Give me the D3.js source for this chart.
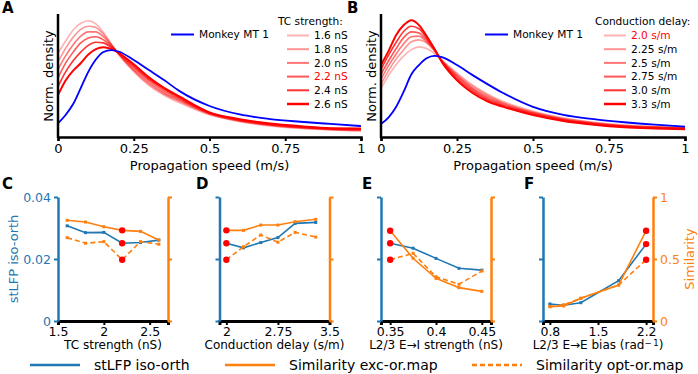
<!DOCTYPE html>
<html>
<head>
<meta charset="utf-8">
<script src="https://cdn.jsdelivr.net/npm/d3@7"></script>
<style>
  body { margin: 0; background: #fff; }
  svg { display: block; }
  svg text { font-family: "DejaVu Sans", sans-serif; }
</style>
</head>
<body>
<div id="root"></div>
<script>
// ---- top panels: propagation speed densities ----
const speeds = [0, 0.025, 0.05, 0.075, 0.1, 0.125, 0.15, 0.175, 0.2, 0.25, 0.3, 0.35, 0.4, 0.5, 0.6, 0.7, 0.8, 0.9, 1];

const monkeyA = [0.111, 0.179, 0.268, 0.398, 0.53, 0.63, 0.691, 0.707, 0.695, 0.626, 0.545, 0.463, 0.375, 0.252, 0.183, 0.146, 0.124, 0.106, 0.089];
const tcLabels = ["1.6 nS", "1.8 nS", "2.0 nS", "2.2 nS", "2.4 nS", "2.6 nS"];
const tcDensity = [
  [0.68, 0.78, 0.87, 0.925, 0.945, 0.92, 0.85, 0.76, 0.67, 0.53, 0.42, 0.34, 0.28, 0.18, 0.125, 0.09, 0.07, 0.057, 0.05],
  [0.61, 0.72, 0.81, 0.875, 0.9, 0.89, 0.835, 0.755, 0.675, 0.54, 0.43, 0.35, 0.29, 0.186, 0.129, 0.094, 0.073, 0.06, 0.053],
  [0.55, 0.66, 0.75, 0.82, 0.855, 0.855, 0.815, 0.75, 0.678, 0.55, 0.445, 0.36, 0.3, 0.19, 0.133, 0.098, 0.077, 0.063, 0.057],
  [0.48, 0.6, 0.69, 0.765, 0.805, 0.815, 0.79, 0.74, 0.68, 0.565, 0.46, 0.375, 0.31, 0.195, 0.137, 0.102, 0.08, 0.066, 0.061],
  [0.41, 0.53, 0.62, 0.69, 0.745, 0.77, 0.765, 0.73, 0.683, 0.578, 0.472, 0.39, 0.32, 0.198, 0.141, 0.106, 0.084, 0.069, 0.065],
  [0.341, 0.46, 0.54, 0.6, 0.67, 0.715, 0.729, 0.716, 0.685, 0.591, 0.485, 0.4, 0.33, 0.2, 0.145, 0.11, 0.088, 0.072, 0.07],
];

const monkeyB = [0.106, 0.16, 0.246, 0.37, 0.51, 0.585, 0.64, 0.66, 0.65, 0.585, 0.505, 0.43, 0.36, 0.245, 0.18, 0.145, 0.12, 0.1, 0.084];
const delayLabels = ["2.0 s/m", "2.25 s/m", "2.5 s/m", "2.75 s/m", "3.0 s/m", "3.3 s/m"];
const delayDensity = [
  [0.396, 0.5, 0.59, 0.66, 0.71, 0.733, 0.72, 0.68, 0.625, 0.52, 0.425, 0.35, 0.29, 0.21, 0.155, 0.12, 0.097, 0.085, 0.078],
  [0.43, 0.54, 0.635, 0.71, 0.775, 0.79, 0.765, 0.7, 0.623, 0.51, 0.413, 0.34, 0.28, 0.203, 0.15, 0.116, 0.094, 0.082, 0.075],
  [0.47, 0.58, 0.675, 0.76, 0.815, 0.82, 0.775, 0.71, 0.62, 0.5, 0.4, 0.328, 0.272, 0.197, 0.145, 0.112, 0.09, 0.079, 0.072],
  [0.51, 0.62, 0.72, 0.81, 0.855, 0.845, 0.79, 0.715, 0.618, 0.49, 0.39, 0.315, 0.263, 0.191, 0.14, 0.108, 0.087, 0.076, 0.069],
  [0.55, 0.665, 0.77, 0.86, 0.9, 0.88, 0.805, 0.72, 0.614, 0.475, 0.375, 0.303, 0.254, 0.185, 0.135, 0.104, 0.083, 0.073, 0.066],
  [0.585, 0.7, 0.83, 0.91, 0.95, 0.91, 0.82, 0.72, 0.61, 0.46, 0.36, 0.29, 0.247, 0.178, 0.13, 0.1, 0.08, 0.07, 0.063],
];
const speedTicks = [0, 0.25, 0.5, 0.75, 1];
const speedTickLabels = ["0", "0.25", "0.5", "0.75", "1"];

// ---- bottom panels: parameter sweeps ----
const tcStrength = [1.6, 1.8, 2.0, 2.2, 2.4, 2.6];
const tcStlfp = [0.0307, 0.0285, 0.0286, 0.0251, 0.0253, 0.0261];
const tcSimExc = [0.812, 0.798, 0.76, 0.731, 0.723, 0.653];
const tcSimOpt = [0.672, 0.627, 0.64, 0.494, 0.64, 0.619];

const delay = [2.0, 2.25, 2.5, 2.75, 3.0, 3.3];
const delayStlfp = [0.0251, 0.0236, 0.0253, 0.0269, 0.0315, 0.0318];
const delaySimExc = [0.731, 0.731, 0.774, 0.774, 0.801, 0.82];
const delaySimOpt = [0.494, 0.599, 0.694, 0.635, 0.715, 0.677];

const eiStrength = [0.35, 0.375, 0.4, 0.425, 0.45];
const eiStlfp = [0.0251, 0.0235, 0.0202, 0.017, 0.0164];
const eiSimExc = [0.728, 0.506, 0.344, 0.269, 0.239];
const eiSimOpt = [0.494, 0.546, 0.357, 0.296, 0.403];

const eeBias = [0.8, 1.0, 1.25, 1.8, 2.2];
const eeStlfp = [0.0055, 0.0051, 0.0059, 0.013, 0.0248];
const eeSimExc = [0.116, 0.121, 0.183, 0.29, 0.728];
const eeSimOpt = [0.116, 0.13, 0.183, 0.29, 0.494];

const stlfpTicks = [0, 0.02, 0.04];
const stlfpTickLabels = ["0", "0.02", "0.04"];
const simTicks = [0, 0.5, 1];
const simTickLabels = ["0", "0.5", "1"];

const blue = "#1f77b4";
const orange = "#ff7f0e";
const width = 698;
const height = 374;
const font = "DejaVu Sans, sans-serif";

const svg = d3.select("#root").append("svg")
  .attr("width", width)
  .attr("height", height)
  .attr("font-family", font);

function styleAxis(ax, color, size) {
  ax.attr("font-family", font).attr("font-size", size);
  ax.selectAll("text").attr("fill", color);
}

function densityPanel(opt) {
  const x = d3.scaleLinear([0, 1], [opt.left, opt.right]);
  const y = d3.scaleLinear([0, 1], [137, 14]);
  const g = svg.append("g");
  const line = d3.line()
    .x((d, i) => x(speeds[i]))
    .y(d => y(d))
    .curve(d3.curveMonotoneX);

  const alphas = [0.3, 0.42, 0.54, 0.66, 0.8, 1];
  opt.series.forEach((s, i) => {
    g.append("path")
      .attr("d", line(s))
      .attr("fill", "none")
      .attr("stroke", "red")
      .attr("stroke-opacity", alphas[i])
      .attr("stroke-width", i === 5 ? 2 : 1.6);
  });
  g.append("path")
    .attr("d", line(opt.monkey))
    .attr("fill", "none")
    .attr("stroke", "#0000ff")
    .attr("stroke-width", 1.8);

  // axes
  const ax = g.append("g").attr("transform", "translate(0,137)")
    .call(d3.axisBottom(x).tickValues(speedTicks)
      .tickFormat((d, i) => speedTickLabels[i]).tickSize(4).tickPadding(3));
  styleAxis(ax, "#000", 13);
  ax.select(".domain").attr("stroke", "#000").attr("stroke-width", 2.5);
  ax.selectAll(".tick line").attr("stroke-width", 2);
  g.append("line")
    .attr("x1", opt.left).attr("x2", opt.left)
    .attr("y1", 14).attr("y2", 138)
    .attr("stroke", "#000").attr("stroke-width", 2.5);

  g.append("text")
    .attr("x", (opt.left + opt.right) / 2)
    .attr("y", 170)
    .attr("text-anchor", "middle")
    .attr("font-size", 13)
    .text("Propagation speed (m/s)");
  g.append("text")
    .attr("transform", `translate(${opt.left - 5},76) rotate(-90)`)
    .attr("text-anchor", "middle")
    .attr("font-size", 13)
    .text("Norm. density");
  g.append("text")
    .attr("x", opt.letterX).attr("y", 13)
    .attr("font-size", 15).attr("font-weight", "bold")
    .text(opt.letter);

  // legends
  const lg = g.append("g").attr("font-size", 10.6);
  lg.append("line")
    .attr("x1", opt.monkeyX).attr("x2", opt.monkeyX + 23)
    .attr("y1", 34.5).attr("y2", 34.5)
    .attr("stroke", "#0000ff").attr("stroke-width", 2);
  lg.append("text")
    .attr("x", opt.monkeyX + 28).attr("y", 34.5).attr("dy", "0.35em")
    .text("Monkey MT 1");
  lg.append("text")
    .attr("x", opt.titleX).attr("y", 21).attr("dy", "0.35em")
    .text(opt.title);
  opt.labels.forEach((lab, i) => {
    const yy = 35.5 + i * 13.7;
    lg.append("line")
      .attr("x1", opt.legX).attr("x2", opt.legX + 22)
      .attr("y1", yy).attr("y2", yy)
      .attr("stroke", "red").attr("stroke-opacity", alphas[i])
      .attr("stroke-width", i === 5 ? 2.5 : 2);
    lg.append("text")
      .attr("x", opt.legX + 27).attr("y", yy).attr("dy", "0.35em")
      .attr("fill", i === opt.highlight ? "red" : "#000")
      .text(lab);
  });
}

densityPanel({
  left: 58, right: 361, letter: "A", letterX: 2,
  series: tcDensity, monkey: monkeyA, labels: tcLabels, highlight: 3,
  title: "TC strength:", titleX: 278, monkeyX: 171, legX: 287,
});
densityPanel({
  left: 381, right: 685, letter: "B", letterX: 347,
  series: delayDensity, monkey: monkeyB, labels: delayLabels, highlight: 0,
  title: "Conduction delay:", titleX: 595, monkeyX: 485, legX: 604,
});

function sweepPanel(opt) {
  const top = 197, bottom = 321;
  const x = d3.scaleLinear(opt.domain, [opt.left, opt.left + 110]);
  const yL = d3.scaleLinear([0, 0.04], [bottom, top]);
  const yR = d3.scaleLinear([0, 1], [bottom, top]);
  const g = svg.append("g");

  const lineL = d3.line().x((d, i) => x(opt.xs[i])).y(d => yL(d));
  const lineR = d3.line().x((d, i) => x(opt.xs[i])).y(d => yR(d));

  const series = [
    { v: opt.stlfp, line: lineL, y: yL, color: blue, dash: null },
    { v: opt.exc, line: lineR, y: yR, color: orange, dash: null },
    { v: opt.opt, line: lineR, y: yR, color: orange, dash: "5,3" },
  ];
  series.forEach(s => {
    g.append("path")
      .attr("d", s.line(s.v))
      .attr("fill", "none")
      .attr("stroke", s.color)
      .attr("stroke-width", 1.6)
      .attr("stroke-dasharray", s.dash);
    g.selectAll(null)
      .data(s.v)
      .join("rect")
      .attr("x", (d, i) => x(opt.xs[i]) - 1.5)
      .attr("y", d => s.y(d) - 1.5)
      .attr("width", 3).attr("height", 3)
      .attr("fill", s.color);
  });
  series.forEach(s => {
    g.append("circle")
      .attr("cx", x(opt.xs[opt.base]))
      .attr("cy", s.y(s.v[opt.base]))
      .attr("r", 3.2)
      .attr("fill", "red");
  });

  // bottom axis
  const ax = g.append("g").attr("transform", `translate(0,${bottom})`)
    .call(d3.axisBottom(x).tickValues(opt.ticks)
      .tickFormat((d, i) => opt.tickLabels[i]).tickSize(4).tickPadding(2));
  styleAxis(ax, "#000", 12.5);
  ax.select(".domain").attr("stroke", "#000").attr("stroke-width", 3);
  ax.selectAll(".tick line").attr("stroke-width", 2);

  // left axis
  const axL = g.append("g").attr("transform", `translate(${opt.left},0)`)
    .call(d3.axisLeft(yL).tickValues(stlfpTicks)
      .tickFormat((d, i) => opt.showLeft ? stlfpTickLabels[i] : "")
      .tickSize(4).tickSizeOuter(0).tickPadding(3));
  styleAxis(axL, blue, 12.5);
  axL.select(".domain").attr("stroke", blue).attr("stroke-width", 2.5);
  axL.selectAll(".tick line").attr("stroke", blue).attr("stroke-width", 2);

  // right axis
  const axR = g.append("g").attr("transform", `translate(${opt.left + 110},0)`)
    .call(d3.axisRight(yR).tickValues(simTicks)
      .tickFormat((d, i) => opt.showRight ? simTickLabels[i] : "")
      .tickSize(4).tickSizeOuter(0).tickPadding(3));
  styleAxis(axR, orange, 12.5);
  axR.select(".domain").attr("stroke", orange).attr("stroke-width", 2.5);
  axR.selectAll(".tick line").attr("stroke", orange).attr("stroke-width", 2);

  const label = g.append("text")
    .attr("x", opt.left + 55).attr("y", 349)
    .attr("text-anchor", "middle")
    .attr("font-size", 12);
  opt.xLabel.forEach(part => {
    label.append("tspan")
      .attr("dy", part.dy || 0)
      .attr("font-size", part.size || null)
      .text(part.text);
  });
  g.append("text")
    .attr("x", opt.letterX).attr("y", 189)
    .attr("font-size", 15).attr("font-weight", "bold")
    .text(opt.letter);

  if (opt.showLeft) {
    g.append("text")
      .attr("transform", `translate(${opt.left - 40},259) rotate(-90)`)
      .attr("text-anchor", "middle")
      .attr("font-size", 13)
      .attr("fill", blue)
      .text("stLFP iso-orth");
  }
  if (opt.showRight) {
    g.append("text")
      .attr("transform", `translate(${opt.left + 110 + 41},259) rotate(-90)`)
      .attr("text-anchor", "middle")
      .attr("font-size", 13)
      .attr("fill", orange)
      .text("Similarity");
  }
}

const tcTicks = [1.5, 2, 2.5];
const delayTicks = [2, 2.75, 3.5];
const eiTicks = [0.35, 0.4, 0.45];
const eeTicks = [0.8, 1.5, 2.2];

sweepPanel({
  left: 58, domain: [1.5, 2.7], xs: tcStrength, stlfp: tcStlfp, exc: tcSimExc, opt: tcSimOpt,
  base: 3, ticks: tcTicks, tickLabels: ["1.5", "2", "2.5"],
  xLabel: [{ text: "TC strength (nS)" }],
  letter: "C", letterX: 2, showLeft: true, showRight: false,
});
sweepPanel({
  left: 219.5, domain: [1.9, 3.5], xs: delay, stlfp: delayStlfp, exc: delaySimExc, opt: delaySimOpt,
  base: 0, ticks: delayTicks, tickLabels: ["2", "2.75", "3.5"],
  xLabel: [{ text: "Conduction delay (s/m)" }],
  letter: "D", letterX: 196, showLeft: false, showRight: false,
});
sweepPanel({
  left: 381, domain: [0.34, 0.46], xs: eiStrength, stlfp: eiStlfp, exc: eiSimExc, opt: eiSimOpt,
  base: 0, ticks: eiTicks, tickLabels: ["0.35", "0.4", "0.45"],
  xLabel: [{ text: "L2/3 E\u2192I strength (nS)" }],
  letter: "E", letterX: 362, showLeft: false, showRight: false,
});
sweepPanel({
  left: 543, domain: [0.7, 2.3], xs: eeBias, stlfp: eeStlfp, exc: eeSimExc, opt: eeSimOpt,
  base: 4, ticks: eeTicks, tickLabels: ["0.8", "1.5", "2.2"],
  xLabel: [
    { text: "L2/3 E\u2192E bias (rad" },
    { text: "\u2212\u20091", dy: -3.5, size: 8.5 },
    { text: ")", dy: 3.5 },
  ],
  letter: "F", letterX: 524, showLeft: false, showRight: true,
});

// bottom legend
const legendItems = [
  { label: "stLFP iso-orth", color: blue, dash: null, x: 30 },
  { label: "Similarity exc-or.map", color: orange, dash: null, x: 225 },
  { label: "Similarity opt-or.map", color: orange, dash: "5,3", x: 472 },
];
const leg = svg.append("g").attr("font-size", 14);
legendItems.forEach(d => {
  leg.append("line")
    .attr("x1", d.x).attr("x2", d.x + 50)
    .attr("y1", 365).attr("y2", 365)
    .attr("stroke", d.color).attr("stroke-width", 2.5)
    .attr("stroke-dasharray", d.dash);
  leg.append("text")
    .attr("x", d.x + 64).attr("y", 365).attr("dy", "0.35em")
    .text(d.label);
});
</script>
</body>
</html>
